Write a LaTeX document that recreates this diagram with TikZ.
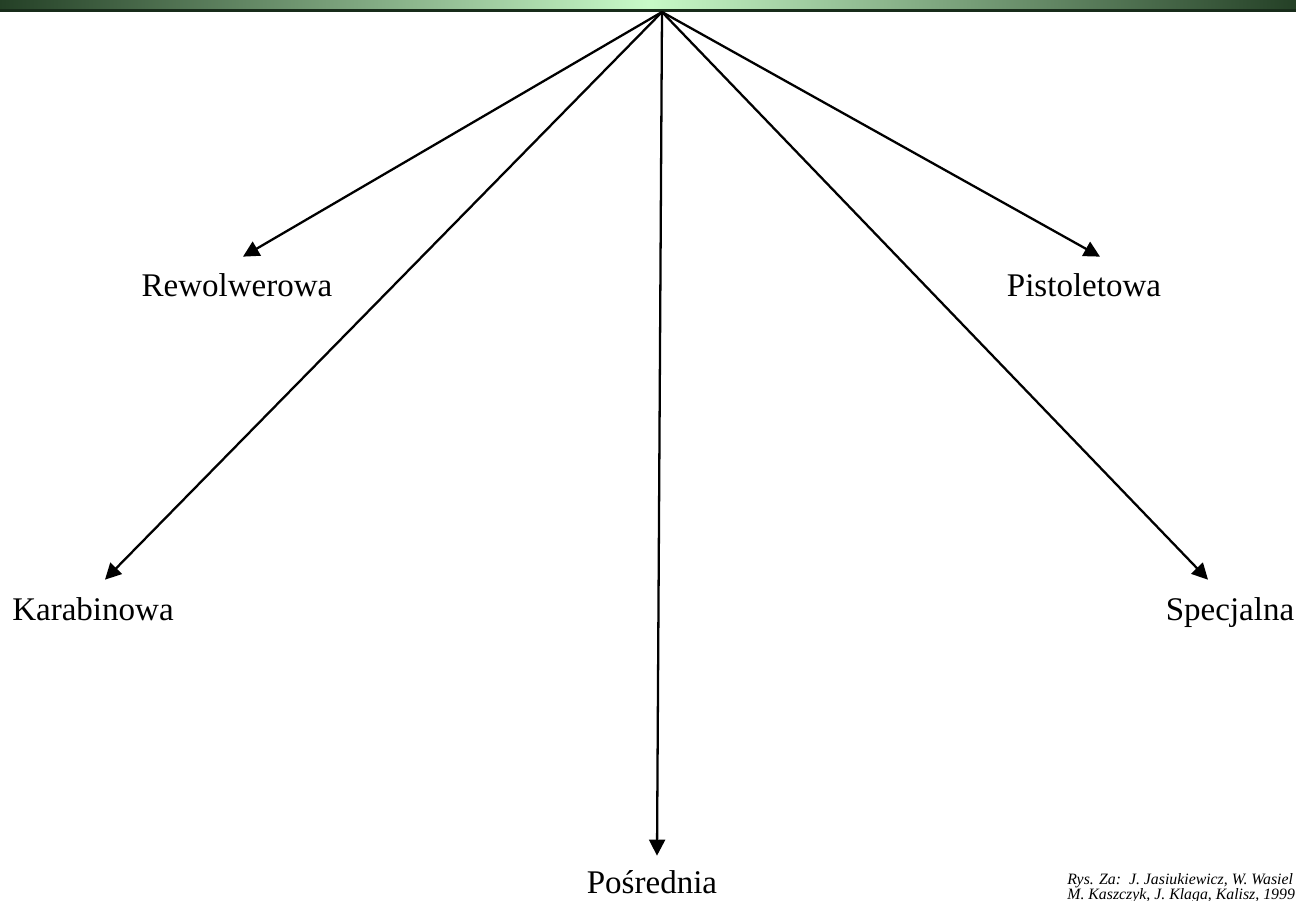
\documentclass[tikz,border=0pt]{standalone}
\usepackage{fontspec}
\setmainfont{Liberation Serif}
\usetikzlibrary{arrows.meta}

\definecolor{bardark}{RGB}{36,64,38}
\definecolor{barlight}{RGB}{200,250,200}
\definecolor{barline}{RGB}{24,44,26}

\tikzset{
  lbl/.style={inner sep=0pt, text height=0.8cm, anchor=base, font=\fontsize{18.8}{22}\selectfont},
  cite/.style={inner sep=0pt, anchor=base west, font=\fontsize{9}{9}\selectfont\itshape},
  arr/.style={line width=1.3pt, -{Triangle[length=0.32cm, width=0.32cm]}}
}

\begin{document}
\begin{tikzpicture}
  \useasboundingbox (0, 0) rectangle (25.92, -18.02);

  %% 上の帯
  \shade[left color=bardark, right color=bardark, middle color=barlight]
    (0, 0) rectangle (25.92, -0.19);
  \fill[barline] (0, -0.19) rectangle (25.92, -0.25);

  %% 起点
  \coordinate (top) at (13.24, -0.24);

  %% ラベル
  \node[lbl] (rew) at (4.74, -5.94) {Rewolwerowa};
  \node[lbl] (pis) at (21.68, -5.94) {Pistoletowa};
  \node[lbl] (kar) at (1.86, -12.40) {Karabinowa};
  \node[lbl] (spe) at (24.60, -12.40) {Specjalna};
  \node[lbl, text height=0.74cm] (pos) at (13.04, -17.86) {Pośrednia};

  %% 矢印
  \draw[arr] (top) -- ([xshift=0.12cm]rew.north);
  \draw[arr] (top) -- ([xshift=0.32cm]pis.north);
  \draw[arr] (top) -- ([xshift=0.24cm]kar.north);
  \draw[arr] (top) -- ([xshift=-0.44cm]spe.north);
  \draw[arr] (top) -- ([xshift=0.10cm]pos.north);

  %% 出典
  \node[cite] (cite1) at (21.34, -17.68) {Rys. Za:\ \ J. Jasiukiewicz, W. Wasiel};
  \node[cite] (cite2) at (21.34, -17.98) {M. Kaszczyk, J. Klaga, Kalisz, 1999};
\end{tikzpicture}
\end{document}
